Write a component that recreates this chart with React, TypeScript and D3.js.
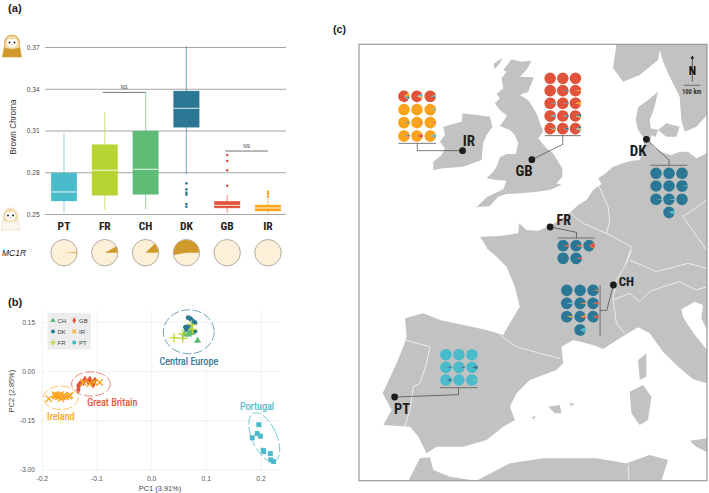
import React from "react";
import * as d3 from "d3";

const W = 709, H = 493;
const NARROW = "'Liberation Sans Narrow','Roboto Condensed','Liberation Sans',sans-serif";
const SANS = "'Liberation Sans',Arial,sans-serif";

const POPS = ["PT", "FR", "CH", "DK", "GB", "IR"];
const POP_COLORS: Record<string, string> = { PT: "#4abbcb", FR: "#b6d433", CH: "#5fbc77", DK: "#2a7895", GB: "#e1523a", IR: "#faa41d" };
const Q1 = [0.2597, 0.2638, 0.2645, 0.3127, 0.2547, 0.2525];
const MEDIAN = [0.2662, 0.2818, 0.2825, 0.3263, 0.2566, 0.2547];
const Q3 = [0.2798, 0.3002, 0.31, 0.3387, 0.2595, 0.2568];
const WHISK_HI = [0.3083, 0.3239, 0.3375, 0.371, 0.264, 0.2609];
const WHISK_LO = [0.252, 0.2532, 0.2537, 0.2791, 0.2513, 0.2506];
const OUTLIERS: number[][] = [[], [], [], [0.2724, 0.2681, 0.2657, 0.2643, 0.2575, 0.2556], [0.2928, 0.2884, 0.2818, 0.2707], [0.2664, 0.2648, 0.2628]];
const Y_TICKS = [0.25, 0.28, 0.31, 0.34, 0.37];
const NS_BRACKETS: [string, string, number][] = [["FR", "CH", 0.3377], ["GB", "IR", 0.2956]];
const MC1R = [0.012, 0.08, 0.125, 0.53, 0, 0];

type Pt = [number, number];
const PT_PC: Pt[] = [[0.196, -0.162], [0.193, -0.189], [0.199, -0.197], [0.184, -0.202], [0.204, -0.24], [0.205, -0.244], [0.217, -0.25], [0.218, -0.269], [0.223, -0.274]];
const IR_PC: Pt[] = [[-0.188, -0.083], [-0.176, -0.075], [-0.173, -0.072], [-0.169, -0.075], [-0.166, -0.07], [-0.171, -0.077], [-0.163, -0.077], [-0.177, -0.07], [-0.16, -0.073], [-0.157, -0.077], [-0.149, -0.073], [-0.152, -0.075], [-0.166, -0.083], [-0.095, -0.033], [-0.113, -0.037], [-0.125, -0.033], [-0.105, -0.032]];
const GB_PC: Pt[] = [[-0.134, -0.055], [-0.134, -0.043], [-0.131, -0.038], [-0.122, -0.024], [-0.113, -0.024], [-0.104, -0.027], [-0.107, -0.04], [-0.116, -0.03], [-0.125, -0.033], [-0.11, -0.035]];
const DK_PC: Pt[] = [[0.067, 0.164], [0.071, 0.161], [0.075, 0.154], [0.079, 0.149], [0.064, 0.128], [0.067, 0.138], [0.079, 0.123], [0.073, 0.118], [0.062, 0.135]];
const CH_PC: Pt[] = [[0.084, 0.094], [0.067, 0.113], [0.073, 0.118], [0.07, 0.123], [0.06, 0.113]];
const FR_PC: Pt[] = [[0.041, 0.103], [0.057, 0.101], [0.057, 0.115], [0.073, 0.143], [0.075, 0.128]];
const PC_X_TICKS = [-0.2, -0.1, 0, 0.1, 0.2];
const PC_X_LABELS = ["-0.2", "-0.1", "0.0", "0.1", "0.2"];
const PC_Y_TICKS = [0.15, 0, -0.15, -0.3];
const PC_Y_LABELS = ["0.15", "0.00", "-0.15", "-3.00"];
// [cx, cy, rx, ry, rotation, colour key]
const ELLIPSES: [number, number, number, number, number, string][] = [
  [0.068, 0.121, 0.0465, 0.067, 0, "DK"],
  [-0.111, -0.038, 0.0355, 0.037, 0, "GB"],
  [-0.166, -0.08, 0.032, 0.036, 0, "IR"],
  [0.206, -0.2, 0.0225, 0.08, -24, "PT"],
];
const CLUSTER_LABELS: [string, number, number, string][] = [
  ["Central Europe", 0.068, 0.0203, "DK"],
  ["Great Britain", -0.072, -0.106, "GB"],
  ["Ireland", -0.166, -0.147, "IR"],
  ["Portugal", 0.1927, -0.117, "PT"],
];

// map outlines, in map units
const mapSouth = (pts: Pt[]): Pt[] => pts.map(([x, y]) => [x, y + 690]);
const CONTINENT: Pt[] = [
  [1132, 400], [1100, 415], [1075, 395], [1050, 395], [1025, 405], [1000, 398], [975, 385], [962, 368], [965, 340], [960, 300], [972, 270], [985, 215], [955, 240], [925, 262], [918, 300], [925, 330], [945, 358], [938, 395], [930, 420], [905, 422], [880, 430], [850, 440], [825, 462], [805, 475], [815, 492], [790, 510], [770, 540], [745, 555], [720, 578], [690, 600], [660, 618], [625, 632], [590, 630], [568, 610], [565, 640], [510, 648], [450, 650], [470, 680],
  ...mapSouth([[470, -5], [500, 20], [530, 50], [555, 110], [570, 170], [540, 220], [520, 255], [470, 240], [400, 225], [330, 210], [280, 190], [225, 205], [230, 260], [220, 290], [200, 340], [158, 430], [185, 480], [160, 525], [240, 530], [265, 560], [290, 610], [320, 590], [400, 590], [470, 570], [520, 530], [555, 510], [540, 470], [560, 430], [600, 390], [680, 360], [700, 340], [695, 290], [730, 270], [790, 285], [820, 297], [870, 265], [925, 232], [960, 250], [1000, 305], [1040, 345], [1090, 388], [1132, 400], [1132, 300], [1100, 260], [1075, 225], [1060, 200], [1055, 178], [1095, 155], [1120, 165], [1115, 205], [1132, 240]]),
];
const SCANDINAVIA: Pt[] = [[860, 73], [850, 145], [880, 185], [930, 165], [985, 120], [990, 90], [1000, 125], [1020, 170], [1050, 230], [1055, 300], [1065, 335], [1100, 320], [1132, 285], [1132, 73]];
const IRELAND: Pt[] = [[340, 320], [370, 312], [395, 305], [398, 280], [440, 285], [480, 290], [488, 320], [470, 345], [460, 370], [455, 420], [400, 440], [340, 445], [310, 450], [310, 425], [335, 405], [345, 385], [330, 365], [345, 345]];
const BRITAIN: Pt[] = [[545, 118], [575, 125], [605, 122], [590, 150], [570, 170], [612, 172], [595, 215], [570, 225], [595, 240], [605, 255], [620, 280], [640, 335], [625, 355], [650, 385], [670, 400], [697, 445], [698, 470], [680, 490], [695, 495], [660, 510], [610, 517], [570, 520], [530, 522], [505, 530], [480, 558], [440, 562], [470, 532], [520, 508], [530, 482], [500, 480], [470, 475], [490, 455], [500, 440], [510, 412], [530, 402], [558, 402], [565, 370], [555, 345], [540, 330], [510, 318], [532, 287], [510, 270], [495, 250], [510, 235], [500, 222], [520, 205], [515, 175], [530, 155], [520, 150]];
const ISLANDS: Pt[][] = [
  [[1010, 310], [1050, 320], [1040, 350], [1010, 350], [985, 330]],
  [[965, 325], [985, 330], [978, 350], [962, 345]],
  [[490, 132], [518, 113], [510, 130], [495, 147]],
  ...[
    [[925, 330], [950, 310], [950, 380], [930, 390]],
    [[900, 425], [940, 405], [965, 440], [955, 510], [930, 525], [905, 490]],
    [[655, 470], [690, 465], [695, 490], [675, 490]],
    [[718, 458], [735, 462], [725, 468]],
    [[605, 502], [618, 498], [612, 508]],
    [[235, 692], [270, 625], [300, 622], [310, 660], [360, 680], [440, 692], [540, 640], [640, 625], [800, 625], [890, 640], [960, 615], [1015, 630], [995, 692]],
    [[1080, 572], [1132, 565], [1132, 607], [1100, 590]],
  ].map((p) => mapSouth(p as Pt[])),
];
const BORDERS: Pt[][] = [
  ...[
    [[510, 255], [560, 290], [630, 310], [690, 325]],
    [[225, 270], [300, 290], [290, 340], [270, 400], [250, 410], [240, 480], [225, 530]],
    [[905, 0], [885, 50], [860, 90], [850, 150], [900, 130], [930, 155], [960, 125], [1000, 110], [1050, 95], [1100, 120], [1132, 110]],
    [[850, 150], [860, 220], [885, 250]],
    [[900, 30], [980, 65], [1075, 40], [1132, 55]],
    [[895, 645], [898, 692]],
  ].map((p) => mapSouth(p as Pt[])),
  [[720, 578], [760, 610], [830, 640], [905, 680], [890, 730]],
  [[805, 492], [835, 560], [840, 600], [830, 640]],
  [[1132, 540], [1060, 590], [1130, 690]],
];

// one pie per sample: main colour first, then the small slices
type Slice = [string, number];
const IR_PIES: Slice[][] = [
  [["GB", 80], ["IR", 12], ["DK", 5], ["PT", 3]], [["GB", 86], ["PT", 8], ["IR", 6]], [["GB", 94], ["PT", 4], ["DK", 2]],
  [["IR", 100]], [["IR", 100]], [["IR", 96], ["PT", 4]],
  [["IR", 96], ["DK", 4]], [["IR", 97], ["GB", 3]], [["IR", 97], ["GB", 3]],
  [["IR", 95], ["DK", 3], ["GB", 2]], [["IR", 88], ["GB", 12]], [["IR", 92], ["PT", 6], ["DK", 2]],
];
const GB_PIES: Slice[][] = [
  [["GB", 100]], [["GB", 100]], [["GB", 100]],
  [["GB", 100]], [["GB", 97], ["DK", 3]], [["GB", 97], ["IR", 3]],
  [["GB", 97], ["DK", 3]], [["GB", 97], ["DK", 3]], [["GB", 92], ["IR", 8]],
  [["GB", 95], ["PT", 3], ["DK", 2]], [["GB", 94], ["DK", 6]], [["GB", 88], ["DK", 8], ["IR", 4]],
  [["GB", 92], ["DK", 4], ["IR", 4]], [["GB", 94], ["DK", 6]], [["GB", 86], ["DK", 6], ["IR", 4], ["PT", 4]],
];
const DK_PIES: Slice[][] = [
  [["DK", 100]], [["DK", 100]], [["DK", 99], ["GB", 1]],
  [["DK", 100]], [["DK", 100]], [["DK", 98], ["PT", 2]],
  [["DK", 98], ["PT", 2]], [["DK", 97], ["PT", 3]], [["DK", 100]],
  [["DK", 88], ["PT", 12]],
];
const FR_PIES: Slice[][] = [
  [["DK", 94], ["GB", 6]], [["DK", 94], ["GB", 4], ["IR", 2]], [["DK", 82], ["GB", 16], ["IR", 2]],
  [["DK", 100]], [["DK", 95], ["GB", 5]],
];
const CH_PIES: Slice[][] = [
  [["DK", 100]], [["DK", 100]], [["DK", 96], ["GB", 3], ["IR", 1]],
  [["DK", 95], ["PT", 5]], [["DK", 95], ["GB", 3], ["IR", 2]], [["DK", 93], ["GB", 7]],
  [["DK", 95], ["IR", 5]], [["DK", 90], ["IR", 5], ["GB", 5]], [["DK", 90], ["GB", 10]],
  [["DK", 86], ["PT", 14]],
];
const PT_PIES: Slice[][] = [
  [["PT", 100]], [["PT", 100]], [["PT", 100]],
  [["PT", 96], ["DK", 4]], [["PT", 96], ["DK", 4]], [["PT", 90], ["DK", 10]],
  [["PT", 92], ["DK", 8]], [["PT", 100]], [["PT", 99], ["IR", 1]],
];
// pie groups: samples, column x positions, row y positions (map units)
const PIE_GROUPS: { pies: Slice[][]; xs: number[]; ys: number[]; lastCol?: number }[] = [
  { pies: IR_PIES, xs: [222, 261, 301], ys: [229, 269, 308, 348] },
  { pies: GB_PIES, xs: [661, 699, 737], ys: [175, 212, 250, 288, 326] },
  { pies: DK_PIES, xs: [979, 1018, 1057], ys: [460, 498, 538, 577], lastCol: 1 },
  { pies: FR_PIES, xs: [700, 739, 778], ys: [677, 715] },
  { pies: CH_PIES, xs: [711, 751, 790], ys: [811, 850, 890, 930], lastCol: 1 },
  { pies: PT_PIES, xs: [348, 387, 426], ys: [1004, 1042, 1080] },
];
// site: label, label pos, font size, connector path, bar
const SITES: { name: string; lab: Pt; fs: number; path: Pt[]; bar: Pt[] }[] = [
  { name: "IR", lab: [417, 362], fs: 15, path: [[262, 370], [262, 392], [398, 392]], bar: [[205, 370], [318, 370]] },
  { name: "GB", lab: [583, 451], fs: 15, path: [[699, 347], [699, 373], [606, 419]], bar: [[645, 347], [753, 347]] },
  { name: "DK", lab: [925, 392], fs: 15, path: [[1018, 436], [1018, 420], [950, 358]], bar: [[962, 436], [1073, 436]] },
  { name: "FR", lab: [702, 600], fs: 14, path: [[740, 654], [740, 637], [661, 621]], bar: [[683, 654], [795, 654]] },
  { name: "CH", lab: [890, 784], fs: 13, path: [[811, 871], [831, 871], [851, 795]], bar: [[811, 795], [811, 948]] },
  { name: "PT", lab: [216, 1165], fs: 14.5, path: [[386, 1103], [386, 1124], [194, 1131]], bar: [[330, 1103], [443, 1103]] },
];

const Owl = ({ x, y, body, hood, edge }: { x: number; y: number; body: string; hood: string; edge: string }) => (
  <g transform={`translate(${x},${y})`}>
    <path d="M0,22 C1,15 2,13 2,9 C2,2 6,0 9.5,0 C13,0 17,2 17,9 C17,13 18,15 19,22 Z" fill={body} stroke={edge} strokeWidth={0.6} />
    <path d="M2.2,12 C2.2,3 6,0.6 9.5,0.6 C13,0.6 16.8,3 16.8,12 C15,14.5 4,14.5 2.2,12 Z" fill={hood} />
    <path d="M9.5,12.5 C3.5,13 3,4.5 7.5,3.5 L9.5,5 L11.5,3.5 C16,4.5 15.5,13 9.5,12.5 Z" fill="#fff" />
    <circle cx={7} cy={7.6} r={1} fill="#222" />
    <circle cx={12} cy={7.6} r={1} fill="#222" />
    <circle cx={9.5} cy={9.6} r={0.7} fill="#e2725b" />
  </g>
);

function Marker({ k, x, y, s, sw = 1.3 }: { k: string; x: number; y: number; s: number; sw?: number }) {
  const c = POP_COLORS[k];
  if (k === "FR" || k === "IR") {
    const rot = k === "IR" ? 45 : 0;
    return (
      <g transform={`translate(${x},${y}) rotate(${rot})`} stroke={c} strokeWidth={sw}>
        <line x1={-s * 1.4} x2={s * 1.4} y1={0} y2={0} />
        <line y1={-s * 1.4} y2={s * 1.4} x1={0} x2={0} />
      </g>
    );
  }
  const type = k === "CH" ? d3.symbolTriangle : k === "PT" ? d3.symbolSquare : k === "GB" ? d3.symbolDiamond : d3.symbolCircle;
  const path = d3.symbol(type, s * s * 3.4)()!;
  return <path d={path} transform={`translate(${x},${y})`} fill={c} />;
}

function BoxPanel() {
  const x = d3.scalePoint<string>().domain(POPS).range([64, 268]);
  const y = d3.scaleLinear().domain([0.25, 0.37]).range([214.5, 47.5]);
  const bw = 25.6;
  const arc = d3.arc();
  return (
    <g>
      <text x={8} y={11.5} fontFamily={SANS} fontWeight="bold" fontSize={11.2} fill="#222">(a)</text>
      <Owl x={2.5} y={35} body="#cf9a2b" hood="#f3d9a6" edge="#cf9a2b" />
      <Owl x={1} y={208} body="#f9f6ef" hood="#f2dcae" edge="#eed9ac" />
      {Y_TICKS.map((t) => (
        <g key={t}>
          <line x1={45} x2={286} y1={y(t)} y2={y(t)} stroke="#a6a6a6" strokeWidth={1.1} />
          <text x={39.5} y={y(t) + 2.3} textAnchor="end" fontFamily={SANS} fontSize={6.5} fill="#444">{t.toFixed(2)}</text>
        </g>
      ))}
      <text transform="translate(16,127) rotate(-90)" textAnchor="middle" fontFamily={SANS} fontSize={8.3} fill="#333">Brown Chroma</text>
      {POPS.map((p, i) => {
        const cx = x(p)!;
        const c = POP_COLORS[p];
        return (
          <g key={p}>
            <line x1={cx} x2={cx} y1={y(WHISK_HI[i])} y2={y(WHISK_LO[i])} stroke={c} strokeOpacity={0.55} strokeWidth={1.2} />
            <rect x={cx - bw / 2} y={y(Q3[i])} width={bw} height={y(Q1[i]) - y(Q3[i])} fill={c} stroke={c} strokeOpacity={0.5} strokeWidth={0.6} />
            <line x1={cx - bw / 2} x2={cx + bw / 2} y1={y(MEDIAN[i])} y2={y(MEDIAN[i])} stroke="#fff" strokeOpacity={0.85} strokeWidth={1} />
            {OUTLIERS[i].map((o) => <circle key={o} cx={cx} cy={y(o)} r={1.3} fill={c} />)}
            <text x={cx} y={230} textAnchor="middle" fontFamily={NARROW} fontWeight="bold" fontSize={11.5} fill="#222">{p}</text>
            <g transform={`translate(${cx},252.7)`}>
              <circle r={13.2} fill="#fdf0d8" stroke="#a9a49a" strokeWidth={0.9} />
              {MC1R[i] > 0 && (
                <path fill="#cf9a2b" d={arc({ innerRadius: 0, outerRadius: 12.8, startAngle: Math.PI / 2 - MC1R[i] * 2 * Math.PI + (i === 0 ? 0.04 : 0), endAngle: Math.PI / 2 + (i === 0 ? 0.04 : 0) })!} />
              )}
            </g>
          </g>
        );
      })}
      {NS_BRACKETS.map(([a, b, v]) => (
        <g key={a}>
          <line x1={x(a)! - 2} x2={x(b)!} y1={y(v)} y2={y(v)} stroke="#666" strokeWidth={0.9} />
          <text x={(x(a)! + x(b)!) / 2 - 1} y={y(v) - 3} textAnchor="middle" fontFamily={SANS} fontSize={4.8} fill="#333">NS</text>
        </g>
      ))}
      <text x={2} y={256} fontFamily={SANS} fontStyle="italic" fontSize={8.5} fill="#222">MC1R</text>
    </g>
  );
}

function PcaPanel() {
  const x = d3.scaleLinear().domain([-0.2, 0.2]).range([42.3, 261]);
  const y = d3.scaleLinear().domain([-0.3, 0.15]).range([470, 322.3]);
  const groups: [string, Pt[]][] = [["PT", PT_PC], ["GB", GB_PC], ["IR", IR_PC], ["DK", DK_PC], ["CH", CH_PC], ["FR", FR_PC]];
  const legend: [string, number, number][] = [["CH", 0, 0], ["DK", 0, 1], ["FR", 0, 2], ["GB", 1, 0], ["IR", 1, 1], ["PT", 1, 2]];
  const sizes: Record<string, number> = { PT: 2.7, GB: 2.3, IR: 3.2, DK: 2.4, CH: 2.6, FR: 3.2 };
  return (
    <g>
      <text x={8} y={306} fontFamily={SANS} fontWeight="bold" fontSize={11.2} fill="#222">(b)</text>
      {PC_X_TICKS.map((t, i) => (
        <g key={t}>
          <line x1={x(t)} x2={x(t)} y1={311} y2={470} stroke="#e6e6e6" strokeDasharray="1 1" strokeWidth={1} />
          <text x={x(t)} y={481} textAnchor="middle" fontFamily={SANS} fontSize={6.8} fill="#555">{PC_X_LABELS[i]}</text>
        </g>
      ))}
      {PC_Y_TICKS.map((t, i) => (
        <g key={t}>
          <line x1={42} x2={280} y1={y(t)} y2={y(t)} stroke="#e6e6e6" strokeDasharray="1 1" strokeWidth={1} />
          <text x={35} y={y(t) + 2.3} textAnchor="end" fontFamily={SANS} fontSize={6.5} fill="#555">{PC_Y_LABELS[i]}</text>
        </g>
      ))}
      <text x={160} y={491} textAnchor="middle" fontFamily={SANS} fontSize={7.4} fill="#444">PC1 (3.91%)</text>
      <text transform="translate(13.5,391) rotate(-90)" textAnchor="middle" fontFamily={SANS} fontSize={7.4} fill="#444">PC2 (2.85%)</text>
      <rect x={47.5} y={313} width={43.5} height={36.5} fill="#ededed" />
      {legend.map(([k, c, r]) => (
        <g key={k}>
          <Marker k={k} x={53 + c * 21.2} y={320.5 + r * 11} s={1.9} />
          <text x={57.5 + c * 21.5} y={322.8 + r * 11} fontFamily={SANS} fontSize={6} fill="#444">{k}</text>
        </g>
      ))}
      {groups.map(([k, pts]) => pts.map((p, i) => <Marker key={k + i} k={k} x={x(p[0])} y={y(p[1])} s={sizes[k]} />))}
      {ELLIPSES.map(([cx, cy, rx, ry, rot, k]) => (
        <ellipse key={k} cx={x(cx)} cy={y(cy)} rx={x(cx + rx) - x(cx)} ry={y(cy) - y(cy + ry)} transform={`rotate(${rot} ${x(cx)} ${y(cy)})`} fill="none" stroke={POP_COLORS[k]} strokeOpacity={0.85} strokeWidth={0.8} strokeDasharray="9 2.5" />
      ))}
      {CLUSTER_LABELS.map(([t, vx, vy, k]) => (
        <text key={t} x={x(vx)} y={y(vy)} textAnchor="middle" fontFamily={NARROW} fontSize={10.2} fill={POP_COLORS[k]} stroke={POP_COLORS[k]} strokeWidth={0.2}>{t}</text>
      ))}
    </g>
  );
}

function MapPanel() {
  const mx = d3.scaleLinear().domain([87, 1132]).range([359, 707]);
  const my = d3.scaleLinear().domain([73, 1382]).range([44.3, 480.7]);
  const line = d3.line<Pt>().x((d) => mx(d[0])).y((d) => my(d[1]));
  const arc = d3.arc<d3.PieArcDatum<Slice>>().innerRadius(0).outerRadius(5.8);
  const land = [CONTINENT, SCANDINAVIA, IRELAND, BRITAIN, ...ISLANDS];
  return (
    <g>
      <text x={333} y={32.5} fontFamily={SANS} fontWeight="bold" fontSize={10.6} fill="#222">(c)</text>
      <clipPath id="mapclip"><rect x={359} y={44.3} width={348} height={436.4} /></clipPath>
      <rect x={359} y={44.3} width={348} height={436.4} fill="#fff" />
      <g clipPath="url(#mapclip)">
        {land.map((p, i) => <path key={i} d={line(p)! + "Z"} fill="#c2c2c2" />)}
        {BORDERS.map((p, i) => <path key={i} d={line(p)!} fill="none" stroke="#fff" strokeWidth={0.7} />)}
      </g>
      <rect x={359} y={44.3} width={348} height={436.4} fill="none" stroke="#999" strokeWidth={1.2} />
      {SITES.map((s) => (
        <g key={s.name}>
          <path d={line(s.bar)!} fill="none" stroke="#666" strokeWidth={0.9} />
          <path d={line(s.path)!} fill="none" stroke="#444" strokeWidth={0.7} />
          <circle cx={mx(s.path[2][0])} cy={my(s.path[2][1])} r={3.4} fill="#1d1d1b" />
          <text x={mx(s.lab[0])} y={my(s.lab[1]) + s.fs * 0.36} textAnchor="middle" fontFamily={NARROW} fontWeight="bold" fontSize={s.fs} fill="#1d1d1b">{s.name}</text>
        </g>
      ))}
      {PIE_GROUPS.map((g, gi) =>
        g.pies.map((slices, i) => {
          const n = g.xs.length;
          const isLast = g.lastCol !== undefined && i === g.pies.length - 1;
          const px = g.xs[isLast ? g.lastCol! : i % n];
          const py = g.ys[Math.floor(i / n)];
          const smallShare = 1 - slices[0][1] / d3.sum(slices, (d) => d[1]);
          const start = Math.PI / 2 + (smallShare * 2 * Math.PI) / 2;
          const pie = d3.pie<Slice>().sort(null).value((d) => d[1]).startAngle(start).endAngle(start + 2 * Math.PI);
          return (
            <g key={`${gi}-${i}`} transform={`translate(${mx(px)},${my(py)})`}>
              {pie(slices).map((a, j) => <path key={j} d={arc(a)!} fill={POP_COLORS[a.data[0]]} />)}
            </g>
          );
        })
      )}
      <line x1={mx(1088)} x2={mx(1088)} y1={my(110)} y2={my(185)} stroke="#222" strokeWidth={0.7} />
      <path d={d3.symbol(d3.symbolTriangle, 6)()!} transform={`translate(${mx(1088)},${my(113)})`} fill="#111" />
      <text x={mx(1088)} y={my(164)} textAnchor="middle" fontFamily={NARROW} fontWeight="bold" fontSize={12} fill="#111">N</text>
      <line x1={mx(1062)} x2={mx(1112)} y1={my(196)} y2={my(196)} stroke="#555" strokeWidth={0.8} />
      <text x={mx(1086)} y={my(222)} textAnchor="middle" fontFamily={NARROW} fontWeight="bold" fontSize={6.5} fill="#333">100 km</text>
    </g>
  );
}

export default function App() {
  return (
    <svg width={W} height={H} viewBox={`0 0 ${W} ${H}`} style={{ position: "absolute", left: 0, top: 0, background: "#fff" }}>
      <BoxPanel />
      <PcaPanel />
      <MapPanel />
    </svg>
  );
}
